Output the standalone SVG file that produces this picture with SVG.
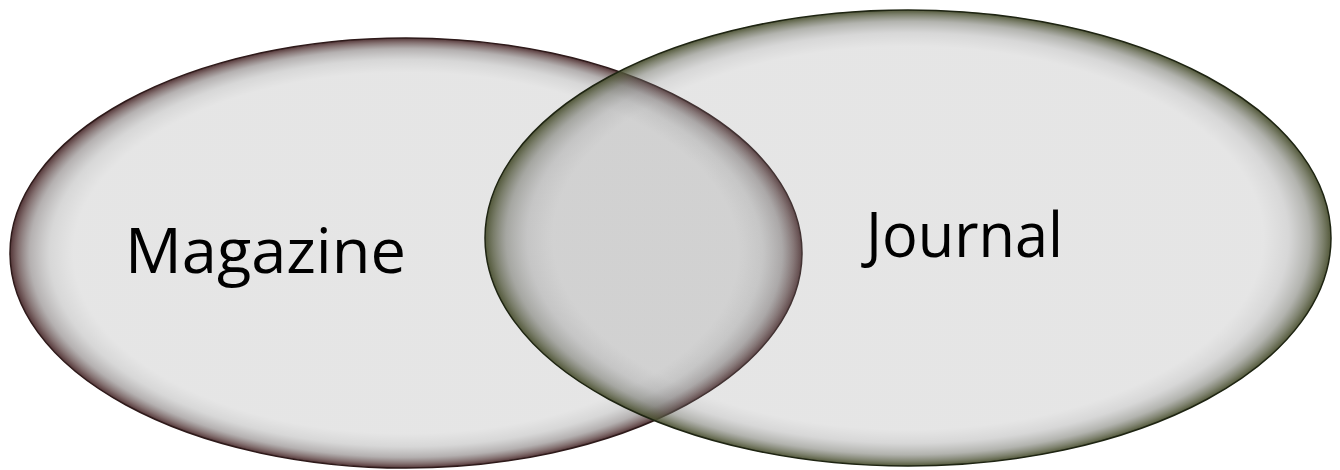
<svg xmlns="http://www.w3.org/2000/svg" width="1340" height="470" viewBox="0 0 1340 470">
  <defs>
    <radialGradient id="gLeft" cx="0.5" cy="0.5" r="0.5">
      <stop offset="0" stop-color="#8a8a8a" stop-opacity="0.22"/>
      <stop offset="0.84" stop-color="#8a8a8a" stop-opacity="0.22"/>
      <stop offset="0.9" stop-color="#7a7a7a" stop-opacity="0.3"/>
      <stop offset="0.95" stop-color="#6a6262" stop-opacity="0.5"/>
      <stop offset="0.98" stop-color="#5a4040" stop-opacity="0.75"/>
      <stop offset="1" stop-color="#4a2a2c" stop-opacity="0.95"/>
    </radialGradient>
    <radialGradient id="gRight" cx="0.5" cy="0.5" r="0.5">
      <stop offset="0" stop-color="#8a8a8a" stop-opacity="0.22"/>
      <stop offset="0.84" stop-color="#8a8a8a" stop-opacity="0.22"/>
      <stop offset="0.9" stop-color="#7a7a7a" stop-opacity="0.3"/>
      <stop offset="0.95" stop-color="#66685e" stop-opacity="0.5"/>
      <stop offset="0.98" stop-color="#555a40" stop-opacity="0.75"/>
      <stop offset="1" stop-color="#4a5030" stop-opacity="0.95"/>
    </radialGradient>
  </defs>
  <style>
    .lbl { font-family: "Open Sans", "Noto Sans", sans-serif; font-size: 62px; fill: #000000; }
  </style>
  <rect width="1340" height="470" fill="#ffffff"/>
  <g id="magazine">
    <ellipse cx="406" cy="253" rx="396" ry="215" fill="url(#gLeft)" stroke="#2e1a1a" stroke-width="1.5"/>
    <text class="lbl" x="125" y="273" textLength="281" lengthAdjust="spacingAndGlyphs">Magazine</text>
  </g>
  <g id="journal">
    <ellipse cx="908" cy="238" rx="423" ry="228" fill="url(#gRight)" stroke="#1e2412" stroke-width="1.5"/>
    <text class="lbl" x="866" y="257" textLength="197" lengthAdjust="spacingAndGlyphs">Journal</text>
  </g>
  <g id="connectors"/>
</svg>
